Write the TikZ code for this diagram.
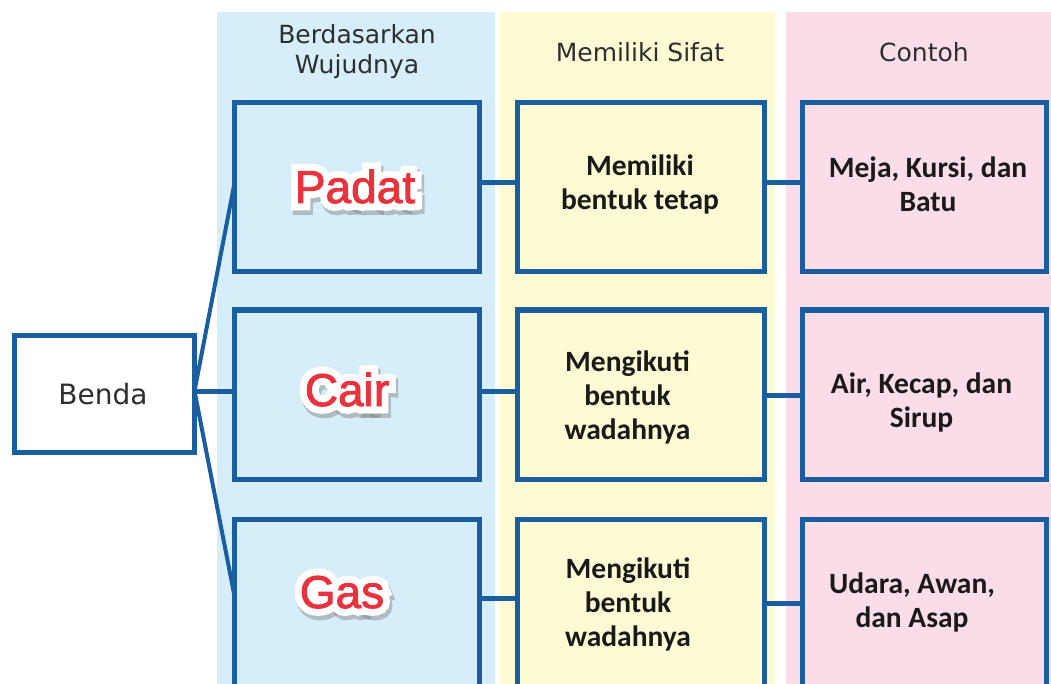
\documentclass[tikz,border=0pt]{standalone}
\usepackage{fontspec}
\setmainfont{Liberation Sans}
\newfontfamily\boxfont{Carlito}
\newfontfamily\headfont{DejaVu Sans}
\newfontfamily\bigfont{Liberation Sans}
\newfontfamily\bigred[Color=E8333E,FakeBold=2]{Liberation Sans}
\newfontfamily\bigwhite[Color=FFFFFF,FakeBold=32]{Liberation Sans}
\newfontfamily\bigshade[Color=80808070,FakeBold=34]{Liberation Sans}
\definecolor{colblue}{HTML}{D5EEF9}
\definecolor{colyellow}{HTML}{FEFAD3}
\definecolor{colpink}{HTML}{FADDE8}
\definecolor{edge}{HTML}{1B5E9F}
\definecolor{redtxt}{HTML}{E8333E}
\definecolor{headgrey}{HTML}{2E2E2E}
\definecolor{boxink}{HTML}{1A1A1A}
\newcommand\wordcopy[4]{\rlap{\hspace*{#1pt}\raisebox{#2pt}{#3#4}}}
\newcommand\haloword[1]{%
  \wordcopy{2}{-4}{\bigshade}{#1}%
  \wordcopy{0}{0}{\bigwhite}{#1}%
  {\bigred #1}}
\tikzset{
  boxbase/.style={draw=edge, line width=5pt, rectangle, inner sep=0pt, outer sep=0pt},
  wujud/.style={boxbase, fill=colblue, minimum width=245pt, minimum height=169pt},
  sifat/.style={boxbase, fill=colyellow, minimum width=247pt, minimum height=169pt},
  contoh/.style={boxbase, fill=colpink, minimum width=244pt, minimum height=169pt},
  boxtxt/.style={align=center, font=\boxfont\bfseries\fontsize{29.5}{34}\selectfont, text=boxink, inner sep=0pt},
  headtxt/.style={align=center, font=\headfont\fontsize{25}{30}\selectfont, text=headgrey, inner sep=0pt},
  bigword/.style={font=\bigfont\fontsize{46}{46}\selectfont, text=redtxt, inner sep=0pt, anchor=base},
  link/.style={draw=edge, line width=5pt},
  fan/.style={draw=edge, line width=4pt},
}
\begin{document}
\begin{tikzpicture}[x=1pt,y=-1pt]
\clip (0,0) rectangle (1051,684);
\fill[white] (0,0) rectangle (1051,684);
% column backgrounds
\fill[colblue] (217,12) rectangle (495,684);
\fill[colyellow] (500,12) rectangle (775,684);
\fill[colpink] (786,12) rectangle (1051,684);
% headers
\node[headtxt] (h1) at (357,51.5) {Berdasarkan\\Wujudnya};
\node[headtxt, anchor=base] (h2) at (640,62) {Memiliki Sifat};
\node[headtxt, anchor=base] (h3) at (924,62) {Contoh};
% boxes
\node[boxbase, fill=white, minimum width=180pt, minimum height=117pt] (benda) at (104.5,394) {};
\node[wujud] (padat) at (357,187) {};
\node[wujud] (cair) at (357,394.5) {};
\node[wujud] (gas) at (357,604) {};
\node[sifat] (s1) at (641,187) {};
\node[sifat] (s2) at (641,394.5) {};
\node[sifat] (s3) at (641,604) {};
\node[contoh] (c1) at (924,187) {};
\node[contoh] (c2) at (924,394.5) {};
\node[contoh] (c3) at (924,604) {};
% connectors
\draw[link] (benda.east |- 0,391) -- (cair.west |- 0,391);
\draw[fan] (benda.east |- 0,391) -- (padat.west |- 0,183);
\draw[fan] (benda.east |- 0,391) -- (gas.west |- 0,596);
\draw[link] (padat.east |- 0,183) -- (s1.west |- 0,183);
\draw[link] (s1.east |- 0,183) -- (c1.west |- 0,183);
\draw[link] (cair.east |- 0,391) -- (s2.west |- 0,391);
\draw[link] (s2.east |- 0,395) -- (c2.west |- 0,395);
\draw[link] (gas.east |- 0,598) -- (s3.west |- 0,598);
\draw[link] (s3.east |- 0,603) -- (c3.west |- 0,603);
% texts
\node[headtxt, anchor=base, font=\headfont\fontsize{28}{30}\selectfont] (bendat) at (103,404) {Benda};
\node[bigword] (padatw) at (355,203) {\haloword{Padat}};
\node[bigword] (cairw) at (347,406) {\haloword{Cair}};
\node[bigword] (gasw) at (342,608) {\haloword{Gas}};
\node[boxtxt] (s1t) at (640,184.2) {Memiliki\\bentuk tetap};
\node[boxtxt] (s2t) at (627.5,397.2) {Mengikuti\\bentuk\\wadahnya};
\node[boxtxt] (s3t) at (628,604.2) {Mengikuti\\bentuk\\wadahnya};
\node[boxtxt] (c1t) at (928,184.7) {Meja, Kursi, dan\\Batu};
\node[boxtxt] (c2t) at (921.5,402.2) {Air, Kecap, dan\\Sirup};
\node[boxtxt] (c3t) at (912,602.7) {Udara, Awan,\\dan Asap};
\end{tikzpicture}
\end{document}
